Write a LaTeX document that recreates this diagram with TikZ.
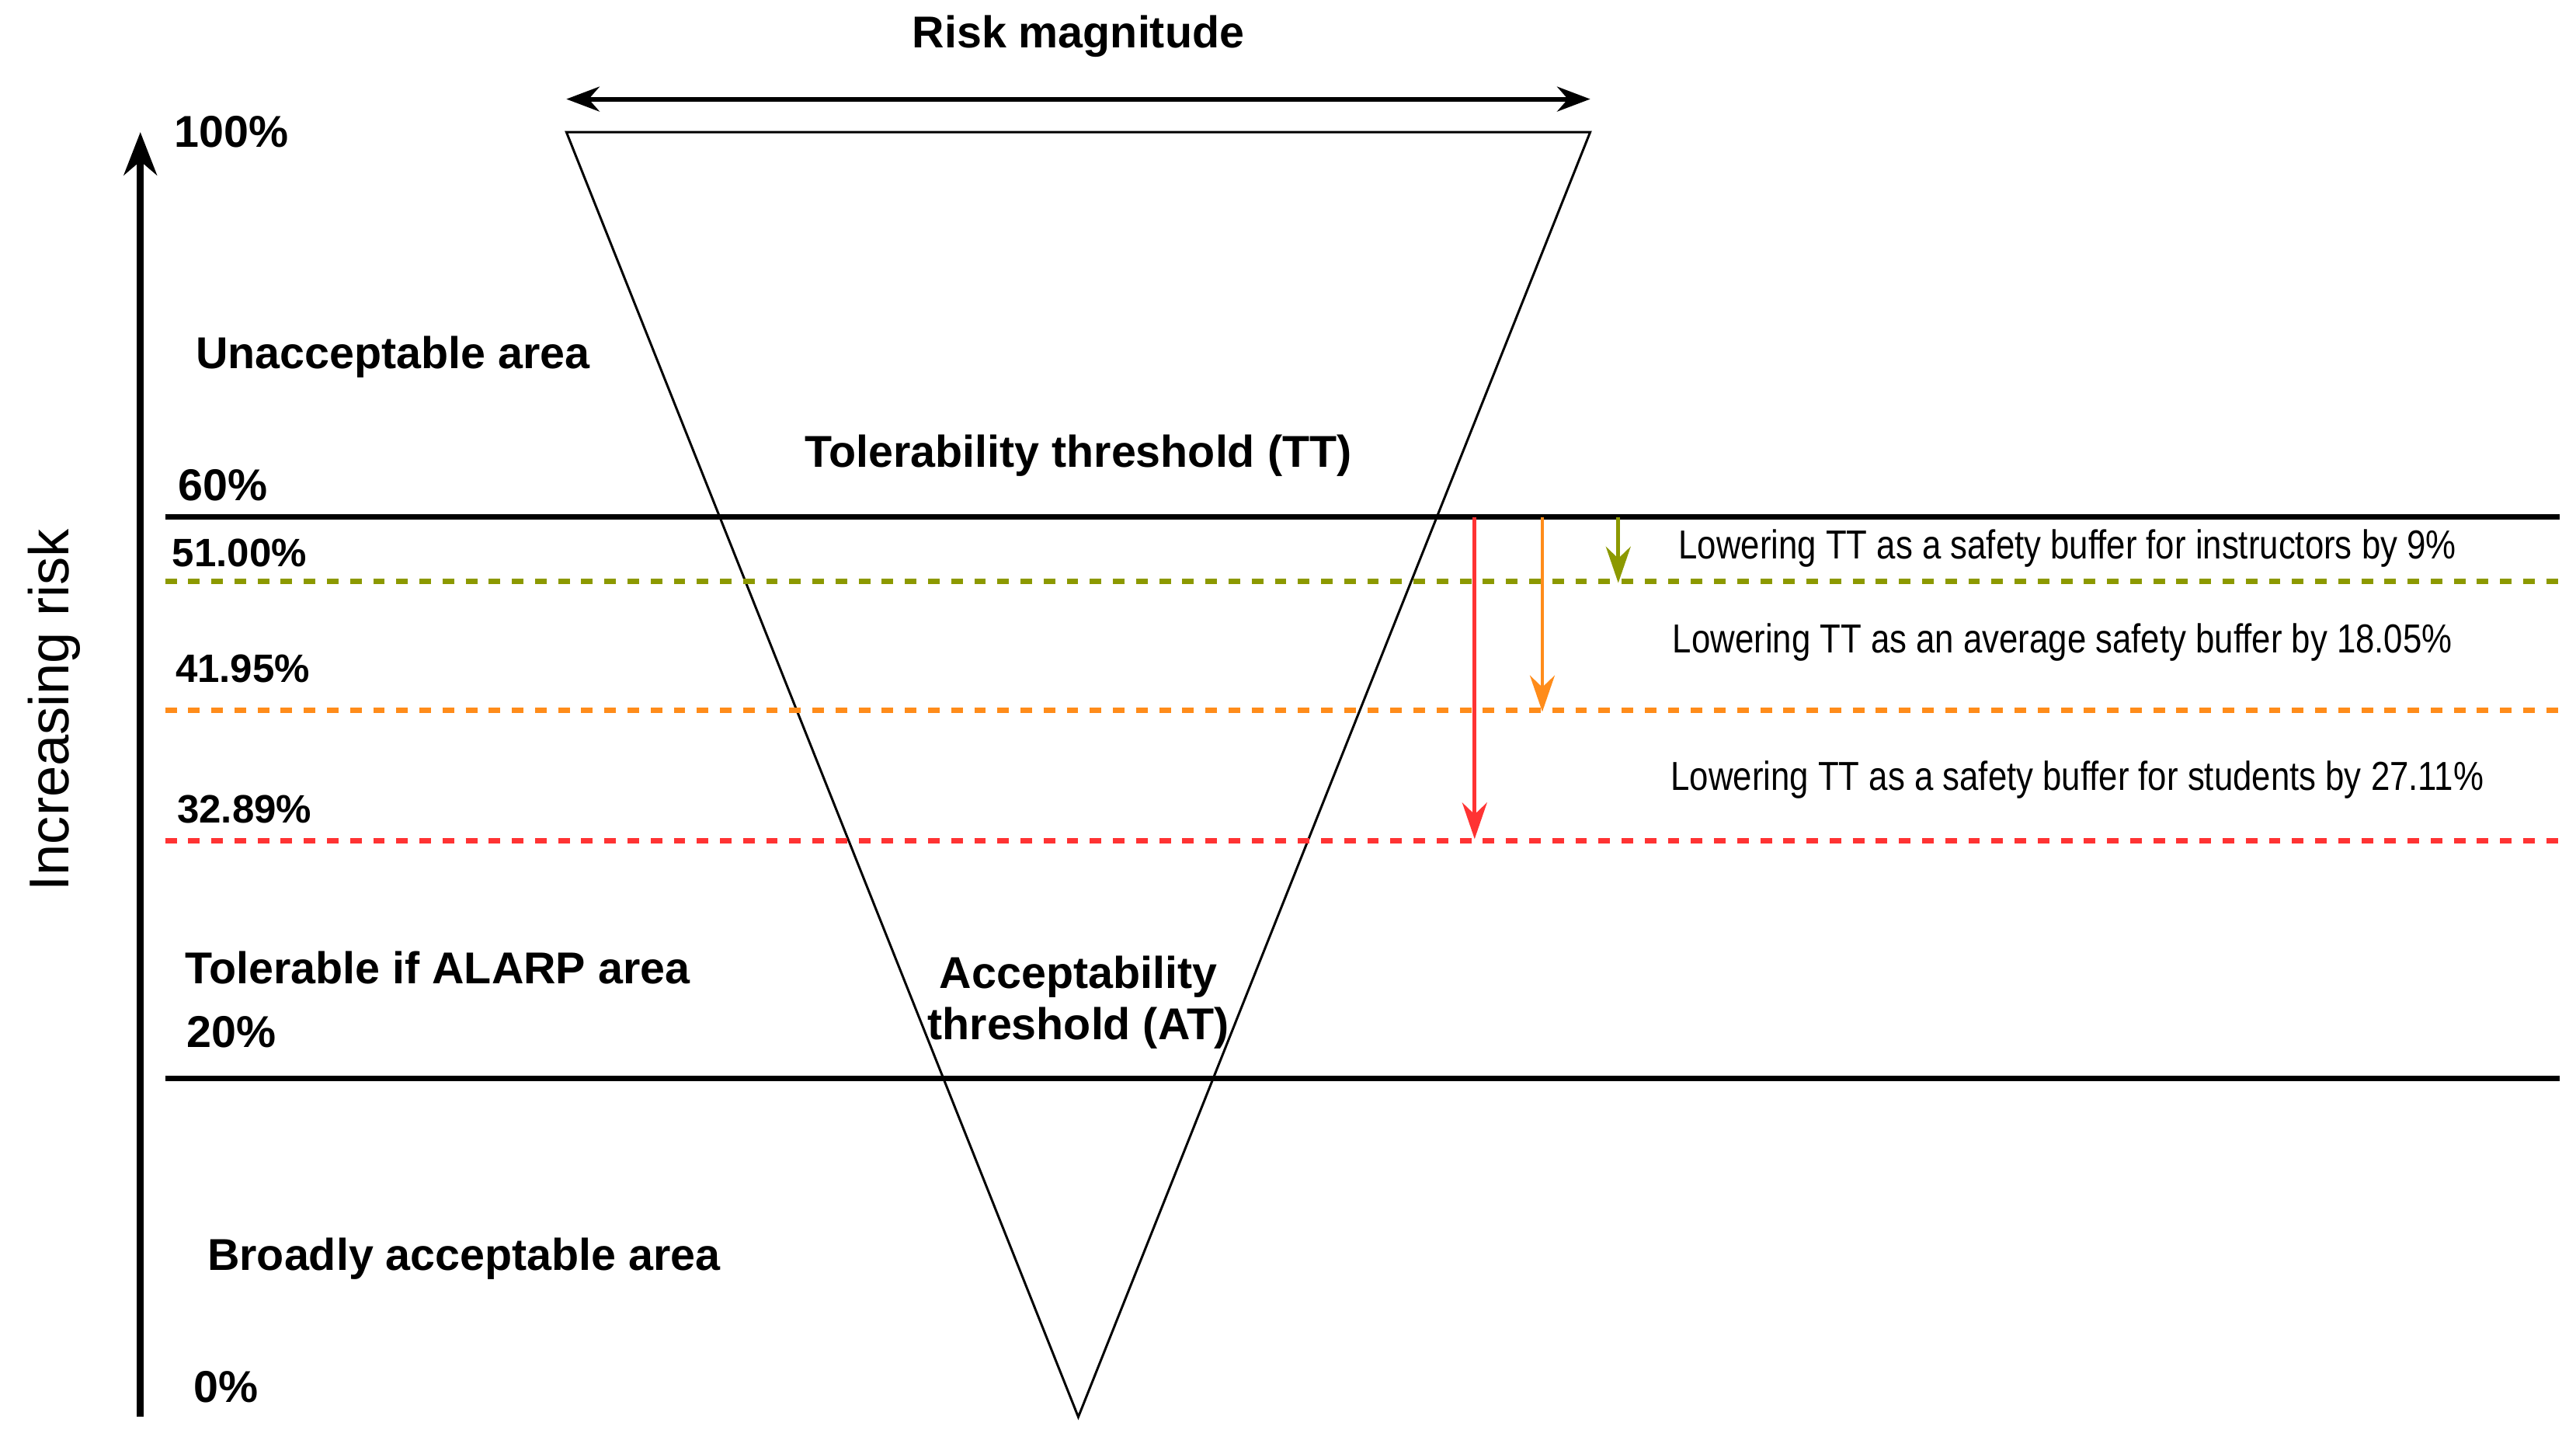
\documentclass[tikz,border=0pt]{standalone}
\usepackage{fontspec}
\setmainfont{Liberation Sans}
\usetikzlibrary{arrows.meta}
\definecolor{olv}{RGB}{140,153,0}
\definecolor{org}{RGB}{255,140,26}
\definecolor{rd}{RGB}{255,51,51}
\begin{document}
\begin{tikzpicture}[x=1pt,y=-1pt,
  lbl/.style={font=\fontsize{27}{31}\selectfont\bfseries},
  pct/.style={font=\fontsize{24}{28}\selectfont\bfseries},
  note/.style={font=\fontsize{24.5}{28}\selectfont},
  dsh/.style={line width=3.5pt,dash pattern=on 7pt off 7pt},
  arr/.style={line width=2.2pt,-{Stealth[length=22pt,width=15pt]}}]
\useasboundingbox (0,0) rectangle (1560,867.3);
% axis
\coordinate (ab) at (85,858); \coordinate (at) at (85,80);
\draw[line width=4pt,-{Stealth[length=26pt,width=20pt]}] (ab) -- (at);
\node[rotate=90,font=\fontsize{34}{38}\selectfont] (inc) at (33,430) {Increasing risk};
% triangle
\coordinate (t1) at (343,80); \coordinate (t2) at (963,80); \coordinate (t3) at (653,858);
\draw[line width=1.4pt] (t1) -- (t2) -- (t3) -- cycle;
\coordinate (r1) at (343,60); \coordinate (r2) at (963,60);
\draw[line width=2.8pt,{Stealth[length=20pt,width=15pt]}-{Stealth[length=20pt,width=15pt]}] (r1) -- (r2);
\node[lbl] (rm) at (653,22) {Risk magnitude};
% lines
\coordinate (l60a) at (100,313); \coordinate (l60b) at (1550,313);
\draw[line width=3pt] (l60a) -- (l60b);
\coordinate (l20a) at (100,653); \coordinate (l20b) at (1550,653);
\draw[line width=3pt] (l20a) -- (l20b);
\coordinate (o1) at (100,352); \coordinate (o2) at (1550,352);
\draw[dsh,olv] (o1) -- (o2);
\coordinate (g1) at (100,430); \coordinate (g2) at (1550,430);
\draw[dsh,org] (g1) -- (g2);
\coordinate (d1) at (100,509); \coordinate (d2) at (1550,509);
\draw[dsh,rd] (d1) -- (d2);
% arrows
\coordinate (ra) at (893,313); \coordinate (rb) at (893,508);
\draw[arr,rd] (ra) -- (rb);
\coordinate (oa) at (934,313); \coordinate (ob) at (934,431);
\draw[arr,org] (oa) -- (ob);
\coordinate (va) at (980,313); \coordinate (vb) at (980,353);
\draw[arr,olv] (va) -- (vb);
% labels
\node[lbl] (p100) at (140,80) {100\%};
\node[lbl] (ua) at (238,216) {Unacceptable area};
\node[lbl] (tt) at (653,276) {Tolerability threshold (TT)};
\node[lbl] (p60) at (135,294) {60\%};
\node[pct] (p51) at (145,335) {51.00\%};
\node[pct] (p42) at (147,405) {41.95\%};
\node[pct] (p33) at (148,490) {32.89\%};
\node[lbl] (ta) at (265,586) {Tolerable if ALARP area};
\node[lbl] (p20) at (140,625) {20\%};
\node[lbl,align=center,inner sep=0pt] (at2) at (653,607) {Acceptability\\threshold (AT)};
\node[lbl] (ba) at (281,762) {Broadly acceptable area};
\node[lbl] (p0) at (137,840) {0\%};
\node[note] (n1) at (1252,332) {\scalebox{0.84}[1]{Lowering TT as a safety buffer for instructors by 9\%}};
\node[note] (n2) at (1249,389) {\scalebox{0.84}[1]{Lowering TT as an average safety buffer by 18.05\%}};
\node[note] (n3) at (1258,472) {\scalebox{0.84}[1]{Lowering TT as a safety buffer for students by 27.11\%}};
\end{tikzpicture}
\end{document}
